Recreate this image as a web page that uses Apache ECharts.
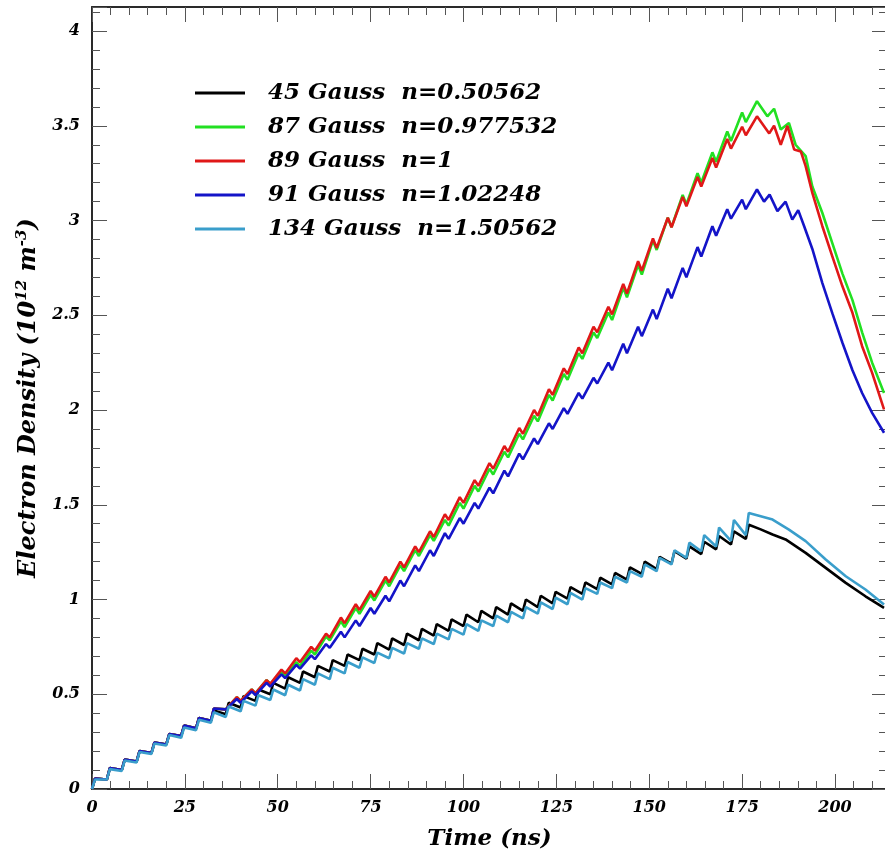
<!DOCTYPE html>
<html><head><meta charset="utf-8">
<script src="https://cdn.jsdelivr.net/npm/echarts@6/dist/echarts.min.js"></script>
<style>html,body{margin:0;padding:0;background:#fff}#c{width:885px;height:864px}</style>
</head><body><div id="c"></div>
<script>
// ---- data ----
const seriesNames = ['45 Gauss  n=0.50562','87 Gauss  n=0.977532','89 Gauss  n=1','91 Gauss  n=1.02248','134 Gauss  n=1.50562'];
const pulseTimes = [0,4,8,12,16,20,24,28,32,36,40,44,48,52,56,60,64,68,72,76,80,84,88,92,96,100,104,108,112,116,120,124,128,132,136,140,144,148,152,156,160,164,168,172,176];
// time from a pulse's trough to its peak (ns)
const fastRise = 0.8, slowRise = 3.0, slowRiseFrom = 36;

const blackPre  = [0.00,0.05,0.10,0.145,0.19,0.235,0.28,0.32,0.36,0.395,0.43,0.465,0.50,0.53,0.56,0.59,0.62,0.65,0.68,0.71,0.735,0.76,0.785,0.81,0.835,0.86,0.88,0.90,0.92,0.94,0.96,0.98,1.005,1.03,1.055,1.08,1.105,1.135,1.16,1.19,1.215,1.24,1.265,1.29,1.32];
const blackPost = [0.055,0.11,0.155,0.20,0.245,0.29,0.335,0.375,0.415,0.455,0.49,0.525,0.56,0.59,0.62,0.65,0.68,0.71,0.74,0.77,0.795,0.82,0.845,0.87,0.895,0.92,0.94,0.96,0.98,1.00,1.02,1.04,1.065,1.09,1.115,1.14,1.17,1.20,1.225,1.255,1.28,1.305,1.335,1.36,1.395];
const blackTailT = [180,183.2,186.7,192.1,197.5,202.9,208.2,213.2];
const blackTailV = [1.37,1.343,1.317,1.246,1.167,1.088,1.017,0.956];

const greenPre  = [0.00,0.05,0.10,0.145,0.19,0.235,0.28,0.32,0.36,0.42,0.465,0.505,0.555,0.595,0.65,0.71,0.785,0.855,0.925,0.995,1.07,1.15,1.23,1.31,1.39,1.48,1.57,1.66,1.75,1.845,1.94,2.05,2.16,2.27,2.38,2.475,2.595,2.715,2.845,2.965,3.085,3.20,3.31,3.42,3.52];
const greenPost = [0.055,0.11,0.155,0.20,0.245,0.29,0.335,0.375,0.425,0.485,0.525,0.575,0.615,0.67,0.73,0.805,0.885,0.955,1.025,1.10,1.18,1.26,1.34,1.42,1.51,1.60,1.69,1.78,1.875,1.97,2.08,2.19,2.30,2.41,2.515,2.645,2.765,2.895,3.015,3.135,3.25,3.36,3.47,3.57,3.63];
const greenTailT = [181.8,183.6,185.4,187.6,189.4,192.1,193.9,196.6,199.3,202.0,204.7,207.3,210.0,213.2];
const greenTailV = [3.55,3.59,3.48,3.515,3.40,3.34,3.18,3.04,2.88,2.72,2.58,2.41,2.25,2.09];

const redPre  = [0.00,0.05,0.10,0.145,0.19,0.235,0.28,0.32,0.36,0.42,0.465,0.505,0.555,0.61,0.67,0.73,0.80,0.875,0.945,1.015,1.09,1.17,1.25,1.33,1.42,1.51,1.60,1.69,1.78,1.875,1.97,2.08,2.19,2.30,2.41,2.505,2.615,2.735,2.855,2.965,3.075,3.18,3.28,3.38,3.45];
const redPost = [0.055,0.11,0.155,0.20,0.245,0.29,0.335,0.375,0.425,0.485,0.525,0.575,0.63,0.69,0.75,0.82,0.905,0.975,1.045,1.12,1.20,1.28,1.36,1.45,1.54,1.63,1.72,1.81,1.905,2.00,2.11,2.22,2.33,2.44,2.545,2.665,2.785,2.905,3.015,3.125,3.23,3.33,3.43,3.495,3.55];
const redTailT = [182.3,183.6,185.4,187.2,189.0,190.8,192.1,193.9,196.6,199.3,202.0,204.7,207.3,210.0,213.2];
const redTailV = [3.46,3.50,3.40,3.50,3.375,3.365,3.287,3.146,2.97,2.81,2.653,2.513,2.337,2.196,2.003];

const bluePre  = [0.00,0.05,0.10,0.145,0.19,0.235,0.28,0.32,0.36,0.42,0.455,0.495,0.54,0.585,0.635,0.685,0.745,0.80,0.86,0.925,0.99,1.07,1.15,1.23,1.32,1.40,1.48,1.56,1.65,1.74,1.82,1.90,1.98,2.06,2.14,2.21,2.30,2.39,2.48,2.59,2.70,2.81,2.92,3.01,3.06];
const bluePost = [0.055,0.11,0.155,0.20,0.245,0.29,0.335,0.375,0.425,0.475,0.515,0.56,0.605,0.655,0.705,0.765,0.83,0.89,0.955,1.02,1.10,1.18,1.26,1.35,1.43,1.51,1.59,1.68,1.77,1.85,1.93,2.01,2.09,2.17,2.25,2.35,2.44,2.53,2.64,2.75,2.86,2.97,3.06,3.11,3.164];
const blueTailT = [180.9,182.4,184.5,186.7,188.5,190.1,191.7,193.9,196.6,199.3,202.0,204.7,207.3,210.0,213.2];
const blueTailV = [3.10,3.137,3.05,3.10,3.005,3.055,2.97,2.85,2.67,2.51,2.355,2.21,2.09,1.985,1.88];

const cyanPre  = [0.00,0.05,0.095,0.14,0.185,0.23,0.27,0.31,0.35,0.38,0.41,0.44,0.47,0.495,0.52,0.55,0.58,0.61,0.64,0.665,0.69,0.715,0.74,0.765,0.79,0.815,0.835,0.86,0.88,0.90,0.925,0.95,0.975,1.00,1.03,1.06,1.09,1.12,1.15,1.185,1.22,1.255,1.28,1.31,1.34];
const cyanPost = [0.05,0.105,0.15,0.195,0.24,0.285,0.325,0.365,0.405,0.435,0.465,0.495,0.525,0.55,0.58,0.61,0.64,0.67,0.695,0.72,0.745,0.77,0.795,0.82,0.845,0.87,0.89,0.915,0.935,0.96,0.985,1.01,1.035,1.06,1.09,1.12,1.15,1.185,1.22,1.26,1.30,1.34,1.38,1.42,1.457];
const cyanTailT = [180,183.2,187.6,192.1,197.5,202.9,208.2,213.2];
const cyanTailV = [1.44,1.422,1.369,1.308,1.211,1.123,1.053,0.974];

const xMin = 0, xMax = 214, xMajor = 25, xMinor = 5;
const yMin = 0, yMax = 4.127, yMajor = 0.5, yMinor = 0.1;

// ---- build ----
function build(pre, post, tailT, tailV, slow) {
  const pts = [];
  for (let i = 0; i < pulseTimes.length; i++) {
    const t = pulseTimes[i];
    const rise = (slow && t >= slowRiseFrom) ? slowRise : fastRise;
    pts.push([t, pre[i]]);
    pts.push([t + rise, post[i]]);
  }
  for (let i = 0; i < tailT.length; i++) pts.push([tailT[i], tailV[i]]);
  return pts;
}
const FONT = 'DejaVu Serif';
const txt = {fontFamily: FONT, fontStyle: 'italic', fontWeight: 'bold', color: '#000'};
const axisCol = '#2a2a2a', tickCol = '#555';

function isMult(v, step) { const r = v / step; return Math.abs(r - Math.round(r)) < 1e-6; }

function xAx(pos, interval, len, labels, line, extra) {
  return Object.assign({
    type: 'value', min: xMin, max: xMax, interval: interval, position: pos,
    axisLine: {show: line, onZero: false, lineStyle: {color: axisCol, width: 2}},
    axisTick: {show: true, inside: true, length: len, lineStyle: {color: tickCol, width: 1}},
    axisLabel: labels ? Object.assign({show: true, margin: 11, fontSize: 16, formatter: v => isMult(v, xMajor) ? String(v) : ''}, txt) : {show: false},
    splitLine: {show: false}
  }, extra || {});
}
function yAx(pos, interval, len, labels, line, extra) {
  return Object.assign({
    type: 'value', min: yMin, max: yMax, interval: interval, position: pos,
    axisLine: {show: line, onZero: false, lineStyle: {color: axisCol, width: 2}},
    axisTick: {show: true, inside: true, length: len, lineStyle: {color: tickCol, width: 1}},
    axisLabel: labels ? Object.assign({show: true, margin: 12, fontSize: 16, formatter: v => isMult(v, yMajor) ? String(+v.toFixed(2)) : ''}, txt) : {show: false},
    splitLine: {show: false}
  }, extra || {});
}

const colors = ['#000000', '#22e022', '#e01818', '#1414c8', '#3a9ecb'];
const datas = [
  build(blackPre, blackPost, blackTailT, blackTailV, false),
  build(greenPre, greenPost, greenTailT, greenTailV, true),
  build(redPre, redPost, redTailT, redTailV, true),
  build(bluePre, bluePost, blueTailT, blueTailV, true),
  build(cyanPre, cyanPost, cyanTailT, cyanTailV, false)
];

const chart = echarts.init(document.getElementById('c'), null, {renderer: 'canvas'});
chart.setOption({
  animation: false,
  backgroundColor: '#fff',
  grid: {left: 92, right: -2, top: 7, bottom: 75, containLabel: false, outerBoundsMode: 'none'},
  legend: {
    left: 190, top: 76, orient: 'vertical', icon: 'rect', itemWidth: 50, itemHeight: 3, itemGap: 10,
    selectedMode: false,
    textStyle: Object.assign({fontSize: 23, lineHeight: 24, padding: [0, 0, 0, 18]}, txt),
    data: seriesNames
  },
  xAxis: [
    xAx('bottom', xMajor, 15, true, true, {
      name: 'Time (ns)', nameLocation: 'middle', nameGap: 39,
      nameTextStyle: Object.assign({fontSize: 23}, txt)
    }),
    xAx('bottom', xMinor, 8, false, false),
    xAx('top', xMajor, 15, false, true),
    xAx('top', xMinor, 8, false, false)
  ],
  yAxis: [
    yAx('left', yMajor, 15, true, true, {
      name: '{t|Electron Density (10}{s|12}{t| m}{s|-3}{t|)}',
      nameLocation: 'middle', nameGap: 47, nameRotate: 90,
      nameTextStyle: {
        rich: {
          t: Object.assign({fontSize: 24, lineHeight: 30}, txt),
          s: Object.assign({fontSize: 15, lineHeight: 15, verticalAlign: 'top'}, txt)
        }
      }
    }),
    yAx('left', yMinor, 8, false, false),
    yAx('right', yMajor, 15, false, true),
    yAx('right', yMinor, 8, false, false)
  ],
  series: seriesNames.map((n, i) => ({
    name: n, type: 'line', data: datas[i], xAxisIndex: 0, yAxisIndex: 0,
    showSymbol: false, symbol: 'none', color: colors[i],
    lineStyle: {width: 2.6, color: colors[i]}, z: 2 + i
  }))
});
</script></body></html>
